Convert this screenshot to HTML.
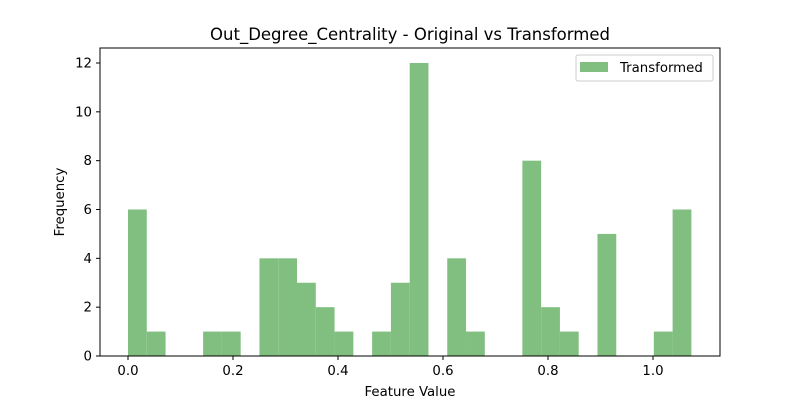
<!DOCTYPE html>
<html><head><meta charset="utf-8"><style>
body{margin:0;background:#fff;}
svg text{font-family:"DejaVu Sans","Liberation Sans",sans-serif;fill:#000;}
</style></head><body>
<svg id="chart" width="800" height="400" xmlns="http://www.w3.org/2000/svg">
<rect width="800" height="400" fill="#fff"/>
<text x="410" y="40" font-size="16.5" text-anchor="middle">Out_Degree_Centrality - Original vs Transformed</text>
<g id="bars"></g>
<rect x="100" y="48" width="620" height="308" fill="none" stroke="#000" stroke-width="1"/>
<g id="xt"></g>
<g id="yt"></g>
<text x="410" y="396" font-size="13.3" text-anchor="middle">Feature Value</text>
<text x="0" y="0" font-size="13.3" text-anchor="middle" transform="translate(64,202) rotate(-90)">Frequency</text>
<g>
<rect x="576" y="55" width="137" height="26" fill="#fff" stroke="#ccc" rx="2"/>
<rect x="580" y="62" width="28" height="10" fill="#80bf80"/>
<text x="620" y="72" font-size="13.3">Transformed</text>
</g>
</svg>
<script>
const binStart = 0.0;
const binWidth = 0.03577;
const counts = [6,1,0,0,1,1,0,4,4,3,2,1,0,1,3,12,0,4,1,0,0,8,2,1,0,5,0,0,1,6];
const xTicks = [0.0,0.2,0.4,0.6,0.8,1.0];
const xTickLabels = ["0.0","0.2","0.4","0.6","0.8","1.0"];
const yTicks = [0,2,4,6,8,10,12];
const NS="http://www.w3.org/2000/svg";
function xs(v){return 128+v*525;}
function ys(v){return 356-v*(293/12);}
const bars=document.getElementById('bars');
counts.forEach((c,i)=>{
  if(c<=0) return;
  const r=document.createElementNS(NS,'rect');
  const x0=xs(binStart+i*binWidth), x1=xs(binStart+(i+1)*binWidth);
  r.setAttribute('x',x0);r.setAttribute('width',x1-x0);
  r.setAttribute('y',ys(c));r.setAttribute('height',ys(0)-ys(c));
  r.setAttribute('fill','#80bf80');
  
  
  bars.appendChild(r);
});
const xt=document.getElementById('xt');
xTicks.forEach((v,i)=>{
  const l=document.createElementNS(NS,'line');
  l.setAttribute('x1',xs(v));l.setAttribute('x2',xs(v));l.setAttribute('y1',356);l.setAttribute('y2',360);l.setAttribute('stroke','#000');
  
  
  xt.appendChild(l);
  const t=document.createElementNS(NS,'text');
  t.setAttribute('x',xs(v));t.setAttribute('y',375);t.setAttribute('font-size','13.3');t.setAttribute('text-anchor','middle');
  t.textContent=xTickLabels[i];
  
  
  xt.appendChild(t);
});
const yt=document.getElementById('yt');
yTicks.forEach(v=>{
  const l=document.createElementNS(NS,'line');
  l.setAttribute('x1',96);l.setAttribute('x2',100);l.setAttribute('y1',ys(v));l.setAttribute('y2',ys(v));l.setAttribute('stroke','#000');
  
  
  yt.appendChild(l);
  const t=document.createElementNS(NS,'text');
  t.setAttribute('x',92);t.setAttribute('y',ys(v)+4.5);t.setAttribute('font-size','13.3');t.setAttribute('text-anchor','end');
  t.textContent=String(v);
  
  
  yt.appendChild(t);
});
</script>
</body></html>
